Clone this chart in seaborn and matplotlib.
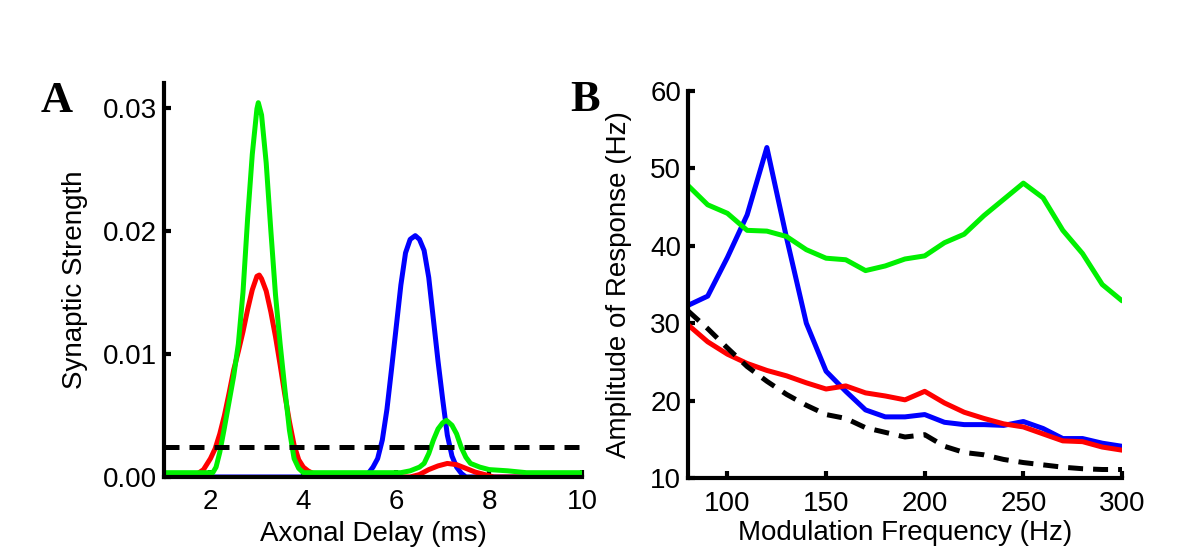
import matplotlib
matplotlib.use("Agg")
import matplotlib.pyplot as plt
import seaborn as sns
import pandas as pd

# ---------------- Panel A: synaptic strength vs axonal delay ----------------
a_blue_x = [1.0, 5.3, 5.4, 5.5, 5.6, 5.7, 5.8, 5.9, 6.0, 6.1, 6.2, 6.3, 6.41, 6.5,
            6.6, 6.7, 6.8, 6.9, 7.0, 7.1, 7.2, 7.3, 7.4, 7.5, 10.0]
a_blue_y = [0, 0, 0.0003, 0.0008, 0.0015, 0.0030, 0.0055, 0.0088, 0.0122, 0.0156,
            0.0182, 0.0193, 0.0196, 0.0193, 0.0184, 0.0162, 0.0128, 0.0094, 0.0063,
            0.0034, 0.0017, 0.0008, 0.0003, 0, 0]

a_red_x = [1.0, 1.7, 1.85, 2.0, 2.1, 2.2, 2.3, 2.4, 2.5, 2.6, 2.7, 2.8, 2.9, 3.0,
           3.05, 3.1, 3.2, 3.3, 3.4, 3.5, 3.6, 3.7, 3.8, 3.9, 4.0, 4.1, 4.25, 4.4,
           6.3, 6.5, 6.7, 6.9, 7.1, 7.3, 7.5, 7.7, 7.9, 8.1, 10.0]
a_red_y = [0, 0.0002, 0.0006, 0.0015, 0.0023, 0.0035, 0.0050, 0.0068, 0.0087, 0.0102,
           0.0118, 0.0136, 0.0152, 0.0163, 0.0164, 0.0161, 0.0151, 0.0134, 0.0114,
           0.0091, 0.0067, 0.0045, 0.0026, 0.0014, 0.0008, 0.0005, 0.0002, 0, 0,
           0.0002, 0.0006, 0.0009, 0.0011, 0.0010, 0.0007, 0.0004, 0.0002, 0, 0]

a_green_x = [1.0, 2.05, 2.12, 2.2, 2.3, 2.4, 2.5, 2.6, 2.7, 2.8, 2.9, 3.0, 3.03, 3.1,
             3.2, 3.3, 3.4, 3.5, 3.6, 3.7, 3.8, 3.9, 4.0, 6.1, 6.3, 6.5, 6.6, 6.7,
             6.8, 6.9, 7.0, 7.08, 7.2, 7.3, 7.4, 7.5, 7.6, 7.8, 8.0, 8.4, 8.8, 10.0]
a_green_y = [0.00035, 0.00035, 0.0008, 0.0020, 0.0040, 0.0061, 0.0082, 0.0108, 0.0150,
             0.0210, 0.0262, 0.0299, 0.0304, 0.0294, 0.0255, 0.0200, 0.0148, 0.0108,
             0.0072, 0.0038, 0.0015, 0.0007, 0.00035, 0.00035, 0.0005, 0.0008, 0.0011,
             0.0019, 0.0030, 0.0039, 0.0044, 0.0046, 0.0042, 0.0035, 0.0024, 0.0016,
             0.0011, 0.0008, 0.0006, 0.0005, 0.00035, 0.00035]

a_thr_x = [1.0, 10.0]
a_thr_y = [0.0024, 0.0024]

a_xticks = [2, 4, 6, 8, 10]
a_yticks = [0.00, 0.01, 0.02, 0.03]
a_yticklabels = ["0.00", "0.01", "0.02", "0.03"]

# ---------------- Panel B: amplitude vs modulation frequency ----------------
b_freq = [80, 90, 100, 110, 120, 130, 140, 150, 160, 170, 180, 190, 200, 210, 220,
          230, 240, 250, 260, 270, 280, 290, 300]
b_blue = [32.3, 33.5, 38.5, 44.0, 52.7, 41.0, 30.0, 23.8, 21.2, 18.8, 17.9, 17.9,
          18.2, 17.2, 16.9, 16.9, 16.8, 17.3, 16.4, 15.1, 15.1, 14.5, 14.1]
b_red = [29.8, 27.6, 26.0, 24.8, 23.9, 23.2, 22.3, 21.5, 21.9, 21.0, 20.6, 20.1,
         21.2, 19.7, 18.5, 17.7, 17.0, 16.6, 15.7, 14.8, 14.7, 14.0, 13.6]
b_green = [47.8, 45.3, 44.2, 42.0, 41.9, 41.2, 39.5, 38.4, 38.2, 36.8, 37.4, 38.3,
           38.7, 40.4, 41.5, 43.9, 46.0, 48.1, 46.2, 42.0, 39.0, 35.0, 32.9]
b_black = [31.6, 29.3, 26.8, 24.4, 22.5, 20.8, 19.4, 18.2, 17.7, 16.5, 15.9, 15.3,
           15.6, 14.1, 13.3, 13.0, 12.4, 12.0, 11.7, 11.4, 11.2, 11.1, 11.1]

b_xticks = [100, 150, 200, 250, 300]
b_yticks = [10, 20, 30, 40, 50, 60]

BLUE, RED, GREEN, BLACK = "#0000FF", "#FF0000", "#00F000", "#000000"
LW = 3.6
DASH = (3.0, 2.0)

sns.set_style("ticks")
plt.rcParams["font.family"] = ["Liberation Sans", "DejaVu Sans"]
plt.rcParams["text.color"] = "black"
plt.rcParams["axes.labelcolor"] = "black"

fig = plt.figure(figsize=(12, 5.47), dpi=100)
axA = fig.add_axes([0.1367, 0.128, 0.3483, 0.7203])
axB = fig.add_axes([0.5733, 0.1261, 0.3617, 0.7075])

# Panel A curves
sns.lineplot(x=a_blue_x, y=a_blue_y, ax=axA, color=BLUE, lw=LW, sort=False)
sns.lineplot(x=a_red_x, y=a_red_y, ax=axA, color=RED, lw=LW, sort=False)
sns.lineplot(x=a_green_x, y=a_green_y, ax=axA, color=GREEN, lw=LW, sort=False)
sns.lineplot(x=a_thr_x, y=a_thr_y, ax=axA, color=BLACK, lw=LW, sort=False)
axA.lines[-1].set_dashes(DASH)

# Panel B curves
dfB = pd.DataFrame({"freq": b_freq, "blue": b_blue, "red": b_red,
                    "green": b_green, "black": b_black})
sns.lineplot(data=dfB, x="freq", y="blue", ax=axB, color=BLUE, lw=LW)
sns.lineplot(data=dfB, x="freq", y="green", ax=axB, color=GREEN, lw=LW)
sns.lineplot(data=dfB, x="freq", y="red", ax=axB, color=RED, lw=LW)
sns.lineplot(data=dfB, x="freq", y="black", ax=axB, color=BLACK, lw=LW)
axB.lines[-1].set_dashes(DASH)

for ax in (axA, axB):
    for s in ("top", "right"):
        ax.spines[s].set_visible(False)
    for s in ("left", "bottom"):
        ax.spines[s].set_linewidth(3.0)
        ax.spines[s].set_color("black")
        ax.spines[s].set_zorder(3)
    ax.tick_params(direction="in", length=5, width=3.0, labelsize=20,
                   colors="black")
    ax.tick_params(axis="x", pad=9)
    ax.tick_params(axis="y", pad=5)
    ax.set_facecolor("white")

axA.set_xlim(1, 10)
axA.set_ylim(0, 0.032)
axA.set_xticks(a_xticks)
axA.set_yticks(a_yticks)
axA.set_yticklabels(a_yticklabels)
axA.set_xlabel("Axonal Delay (ms)", fontsize=20)
axA.set_ylabel("Synaptic Strength", fontsize=20)
axA.xaxis.set_label_coords(0.5, -0.112)
axA.yaxis.set_label_coords(-0.182, 0.5)

axB.set_xlim(80, 300)
axB.set_ylim(10, 60)
axB.set_xticks(b_xticks)
axB.set_yticks(b_yticks)
axB.set_xlabel("Modulation Frequency (Hz)", fontsize=20)
axB.set_ylabel("Amplitude of Response (Hz)", fontsize=20)
axB.xaxis.set_label_coords(0.5, -0.109)
axB.yaxis.set_label_coords(-0.13, 0.5)

fig.text(0.0475, 0.815, "A", fontsize=32, fontweight="bold",
         family="Liberation Serif", ha="center", va="center", color="black")
fig.text(0.4875, 0.817, "B", fontsize=32, fontweight="bold",
         family="Liberation Serif", ha="center", va="center", color="black")

fig.savefig("out.png", dpi=100, facecolor="white")
